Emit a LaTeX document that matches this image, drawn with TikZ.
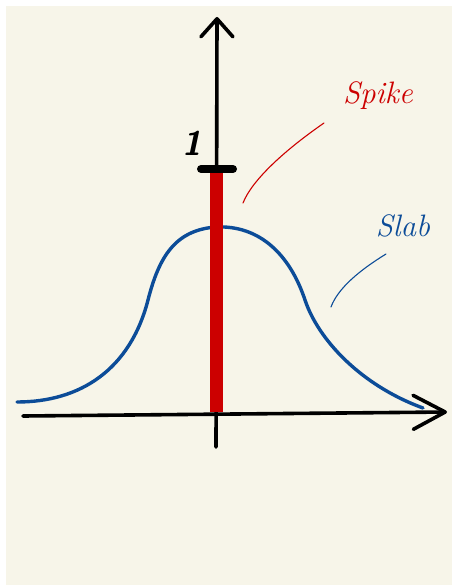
\documentclass[tikz,border=0pt]{standalone}
\usepackage{xcolor}
\definecolor{paper}{RGB}{247,245,233}
\definecolor{spikered}{RGB}{204,0,0}
\definecolor{slabblue}{RGB}{12,76,152}
\usepackage{tikz}
\usetikzlibrary{positioning,arrows.meta,calc}

\begin{document}
\begin{tikzpicture}[x=1pt, y=-1pt]
        \tikzset{
          axis/.style={draw=black, line width=3.6pt, line cap=round},
          spikebar/.style={draw=spikered, line width=13pt},
          slabcurve/.style={draw=slabblue, line width=3.4pt, line cap=round},
          pointer/.style={line width=1.1pt, line cap=round},
          handtext/.style={font=\fontsize{31}{31}\selectfont\itshape, inner sep=0pt}
        }
        \useasboundingbox (0,0) rectangle (452,585);
        % Paper
        \fill[paper] (6,6) rectangle (452,585);
        % Axes
        \coordinate (origin) at (216,416);
        \coordinate (ybot) at (216,447);
        \coordinate (ytop) at (217,17);
        \coordinate (xleft) at (23,416);
        \coordinate (xright) at (447,412);
        \draw[axis, -{Straight Barb[round, length=18pt, width=32pt]}] (ybot) -- (ytop);
        \draw[axis, -{Straight Barb[round, length=32pt, width=34pt]}] (xleft) -- (xright);
        % Slab
        \coordinate (peak) at (216,227);
        \draw[slabcurve] (17,402) .. controls (80,402) and (130,370) .. (148,300)
          .. controls (159,257) and (175,230) .. (peak)
          .. controls (260,225) and (290,255) .. (305,300)
          .. controls (318,339) and (360,385) .. (423,408);
        % Spike
        \coordinate (spiketop) at (216,173);
        \draw[spikebar] (origin) ++(0,-4) -- (spiketop);
        \draw[black, line width=8pt, line cap=round] (201,169) -- (233,169);
        \node[font=\fontsize{34}{34}\selectfont\bfseries\sffamily\slshape, inner sep=0pt]
          (one) at (192,143) {1};
        % Labels
        \node[handtext, text=spikered] (spike) at (378,96) {Spike};
        \node[handtext, text=slabblue] (slab) at (403,226) {Slab};
        \coordinate (spikefrom) at (243,203);
        \coordinate (spiketo) at (324,123);
        \coordinate (slabfrom) at (331,307);
        \coordinate (slabto) at (386,254);
        \draw[pointer, spikered] (spikefrom) .. controls (252,180) and (285,150) .. (spiketo);
        \draw[pointer, slabblue] (slabfrom) .. controls (338,288) and (360,270) .. (slabto);
      \end{tikzpicture}
\end{document}
